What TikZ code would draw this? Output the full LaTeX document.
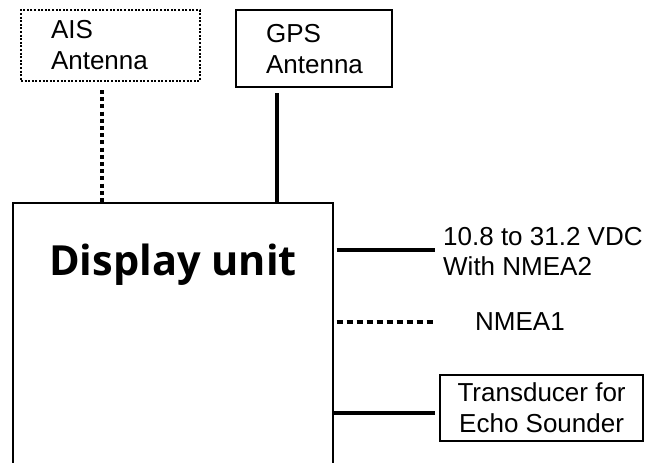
\documentclass[tikz,border=0pt]{standalone}
\usepackage{fontspec}
\setmainfont{Liberation Sans}
\newfontfamily\dispfont{Open Sans}
\usepackage{tikz}
\usetikzlibrary{positioning}

\begin{document}
\begin{tikzpicture}[x=1pt, y=-1pt,
    antbox/.style={draw, line width=2.2pt, minimum width=156pt, minimum height=77pt, inner xsep=30pt, inner ysep=0pt, text width=96pt, align=left, anchor=north west, font=\fontsize{26}{31}\selectfont},
    cable/.style={line width=4.5pt},
    dotcable/.style={line width=4pt, dash pattern=on 4pt off 3.2pt},
    dashcable/.style={line width=4pt, dash pattern=on 6pt off 4pt},
    lbl/.style={inner sep=0pt, anchor=west, align=left, font=\fontsize{26}{30}\selectfont}]
      \useasboundingbox (0,0) rectangle (657,463);
      \clip (0,0) rectangle (657,463);
      % antennas
      \node[antbox, line width=2pt, dash pattern=on 2pt off 1.6pt, minimum width=179pt, minimum height=71pt, text width=119pt] (ais) at (20,9) {AIS\\Antenna};
      \node[antbox] (gps) at (235,9) {GPS\\Antenna};
      % display unit
      \node[draw, line width=1.5pt, minimum width=320pt, minimum height=290pt, anchor=north west] (disp) at (12,202) {};
      \node[anchor=base, inner sep=0pt, font=\dispfont\bfseries\fontsize{41.5}{50}\selectfont] (dispname) at (173,275) {Display unit};
      % right side
      \node[lbl] (pwr) at (443,252) {10.8 to 31.2 VDC\\With NMEA2};
      \node[lbl] (nmea) at (475,322) {NMEA1};
      \node[draw, line width=2.2pt, minimum width=203pt, minimum height=66pt, inner sep=0pt, align=center, anchor=north west, font=\fontsize{26}{31}\selectfont] (trans) at (439,374) {Transducer for\\Echo Sounder};
      % cables
      \draw[dotcable] ([xshift=-8.5pt, yshift=-8pt]ais.south) -- ([xshift=-8.5pt]ais.south |- disp.north);
      \draw[cable] ([xshift=-37pt, yshift=-5pt]gps.south) -- ([xshift=-37pt]gps.south |- disp.north);
      \draw[cable] ([xshift=3pt, yshift=2pt]disp.east |- pwr.west) -- ([xshift=-8pt, yshift=2pt]pwr.west);
      \draw[dashcable] ([xshift=3pt]disp.east |- nmea.west) -- ([xshift=-40pt]nmea.west);
      \draw[cable] ([yshift=-5pt]disp.east |- trans.west) -- ([xshift=-4pt, yshift=-5pt]trans.west);
\end{tikzpicture}
\end{document}
